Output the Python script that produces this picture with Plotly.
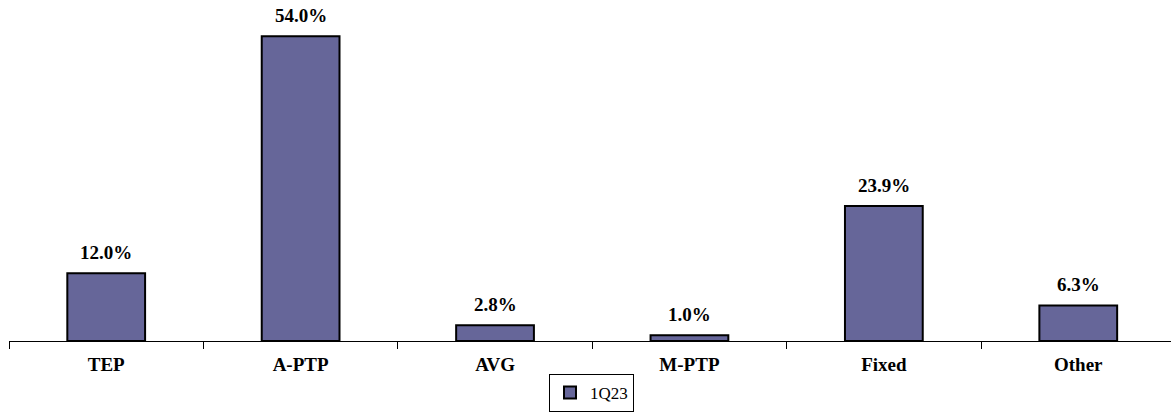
import plotly.graph_objects as go

categories = ["TEP", "A-PTP", "AVG", "M-PTP", "Fixed", "Other"]
values = [12.0, 54.0, 2.8, 1.0, 23.9, 6.3]
series_name = "1Q23"

fig = go.Figure()
fig.add_trace(go.Bar(
    x=categories, y=values, name=series_name,
    width=0.40,
    marker=dict(color="#666699", line=dict(color="black", width=2)),
))

for c, v in zip(categories, values):
    fig.add_annotation(
        x=c, y=v, text=f"{v:.1f}%", showarrow=False,
        yanchor="bottom", yshift=8,
        font=dict(family="Liberation Serif", size=19, color="black", weight="bold"),
    )

fig.update_layout(
    width=1171, height=417,
    margin=dict(l=9, r=0, t=0, b=76, autoexpand=False),
    plot_bgcolor="white", paper_bgcolor="white",
    showlegend=True,
    legend=dict(
        orientation="h", xref="container", yref="container",
        x=549/1171, y=(417-374)/417, xanchor="left", yanchor="top",
        bordercolor="black", borderwidth=1,
        font=dict(family="Liberation Serif", size=17, color="black"),
        itemwidth=30,
    ),
    xaxis=dict(
        type="category", range=[-0.5, 5.477], automargin=False,
        showline=True, linecolor="black", linewidth=1,
        ticks="outside", tickson="boundaries", ticklen=7, tickcolor="black",
        tickfont=dict(family="Liberation Serif", size=19, color="black", weight="bold"),
        ticklabelstandoff=6,
        showgrid=False,
    ),
    yaxis=dict(
        range=[0, 60.4], visible=False, showgrid=False, automargin=False,
    ),
)

fig.write_html(
    "out.html",
    config={"displayModeBar": False},
    post_script="document.body.style.margin='0';document.body.style.overflow='hidden';",
)
